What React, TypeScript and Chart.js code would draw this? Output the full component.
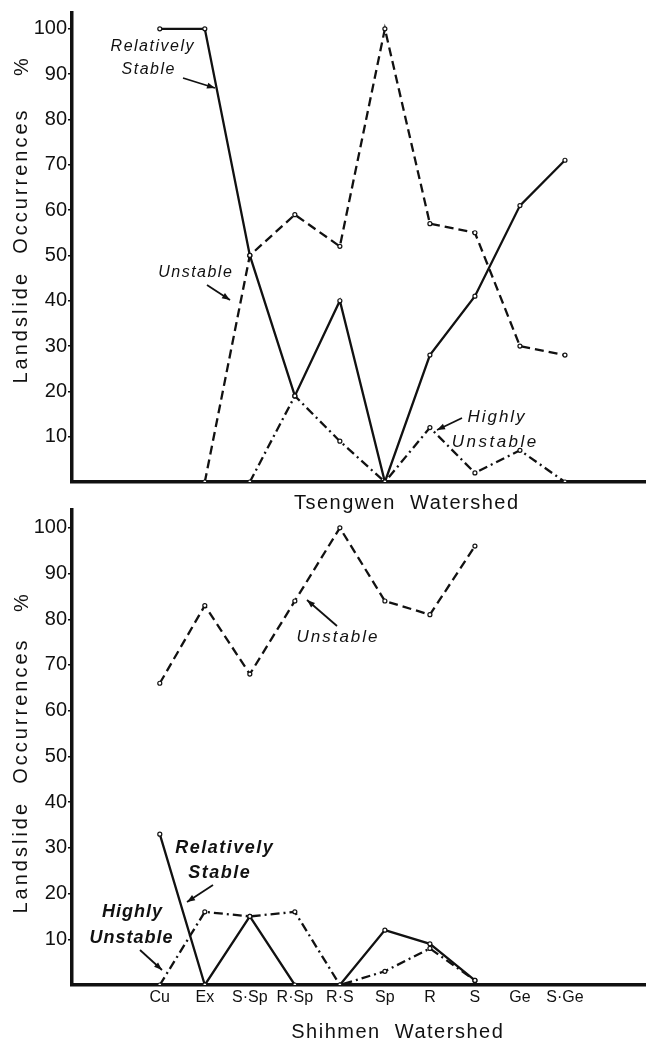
import React, { useEffect, useRef } from 'react';
import { Chart, registerables } from 'chart.js';

Chart.register(...registerables);

// ---------- data ----------
const categories = ['Cu', 'Ex', 'S·Sp', 'R·Sp', 'R·S', 'Sp', 'R', 'S', 'Ge', 'S·Ge'];
const yTickValues = [10, 20, 30, 40, 50, 60, 70, 80, 90, 100];

// Tsengwen Watershed (%)
const tsengwenRelativelyStable = [100, 100, 50, 19, 40, 0, 28, 41, 61, 71];
const tsengwenUnstable = [null, 0, 50, 59, 52, 100, 57, 55, 30, 28];
const tsengwenHighlyUnstable = [null, null, 0, 19, 9, 0, 12, 2, 7, 0];

// Shihmen Watershed (%)
const shihmenRelativelyStable = [33, 0, 15, 0, 0, 12, 9, 1, null, null];
const shihmenUnstable = [66, 83, 68, 84, 100, 84, 81, 96, null, null];
const shihmenHighlyUnstable = [0, 16, 15, 16, 0, 3, 8, 1, null, null];

// ---------- styling ----------
const INK = '#111111';
const FONT = "'Liberation Sans', Arial, sans-serif";
const TICK_FONT = "'Liberation Sans Narrow', 'Liberation Sans', Arial, sans-serif";

type TextItem = {
  kind: 'text';
  text: string;
  x: number;
  y: number;
  size: number;
  italic?: boolean;
  bold?: boolean;
  spacing?: number;
  rotate?: boolean;
};
type ArrowItem = { kind: 'arrow'; x1: number; y1: number; x2: number; y2: number };
type Item = TextItem | ArrowItem;

const annotPlugin = {
  id: 'annot',
  afterDraw(chart: any) {
    const opts = chart.options.plugins.annot;
    if (!opts) return;
    const items: Item[] = opts.items || [];
    const oy: number = opts.offsetY || 0;
    const ctx = chart.ctx as CanvasRenderingContext2D;
    ctx.save();
    ctx.fillStyle = INK;
    ctx.strokeStyle = INK;
    for (const it of items) {
      if (it.kind === 'text') {
        ctx.save();
        ctx.font = `${it.italic ? 'italic ' : ''}${it.bold ? 'bold ' : ''}${it.size}px ${FONT}`;
        (ctx as any).letterSpacing = `${it.spacing || 0}px`;
        ctx.textAlign = 'center';
        ctx.textBaseline = 'middle';
        ctx.translate(it.x + (it.rotate ? 0 : (it.spacing || 0) / 2), it.y - oy + (it.rotate ? -(it.spacing || 0) / 2 : 0));
        if (it.rotate) ctx.rotate(-Math.PI / 2);
        ctx.fillText(it.text, 0, 0);
        ctx.restore();
      } else {
        const x1 = it.x1, y1 = it.y1 - oy, x2 = it.x2, y2 = it.y2 - oy;
        ctx.lineWidth = 1.8;
        ctx.beginPath();
        ctx.moveTo(x1, y1);
        ctx.lineTo(x2, y2);
        ctx.stroke();
        const a = Math.atan2(y2 - y1, x2 - x1);
        const L = 8, W = 3;
        ctx.beginPath();
        ctx.moveTo(x2, y2);
        ctx.lineTo(x2 - L * Math.cos(a) + W * Math.sin(a), y2 - L * Math.sin(a) - W * Math.cos(a));
        ctx.lineTo(x2 - L * Math.cos(a) - W * Math.sin(a), y2 - L * Math.sin(a) + W * Math.cos(a));
        ctx.closePath();
        ctx.fill();
      }
    }
    ctx.restore();
  },
};

function toPoints(values: (number | null)[]) {
  return values.map((v, i) => ({ x: i, y: v }));
}

function dataset(label: string, values: (number | null)[], dash: number[]) {
  return {
    label,
    data: toPoints(values),
    borderColor: INK,
    borderWidth: 2.3,
    borderDash: dash,
    tension: 0,
    pointRadius: 2,
    pointBorderWidth: 1.2,
    pointBackgroundColor: '#ffffff',
    pointBorderColor: INK,
    fill: false,
    spanGaps: false,
  };
}

type PanelProps = {
  top: number;
  height: number;
  padTop: number;
  xHeight: number;
  yMax: number;
  showX: boolean;
  rs: (number | null)[];
  un: (number | null)[];
  hu: (number | null)[];
  items: Item[];
};

function Panel(p: PanelProps) {
  const ref = useRef<HTMLCanvasElement | null>(null);
  useEffect(() => {
    if (!ref.current) return;
    const chart = new Chart(ref.current, {
      type: 'line',
      data: {
        datasets: [
          dataset('Relatively Stable', p.rs, []),
          dataset('Unstable', p.un, [9, 5]),
          dataset('Highly Unstable', p.hu, [9, 4, 2, 4]),
        ] as any,
      },
      options: {
        animation: false,
        responsive: false,
        maintainAspectRatio: false,
        layout: { autoPadding: false, padding: { top: p.padTop, left: 0, right: 0, bottom: 0 } },
        plugins: {
          legend: { display: false },
          tooltip: { enabled: false },
          title: { display: false },
          annot: { items: p.items, offsetY: p.top },
        } as any,
        scales: {
          x: {
            type: 'linear',
            min: -1.95,
            max: 10.8,
            grid: { display: false, drawTicks: false },
            border: { display: true, width: 3.5, color: INK },
            ticks: {
              display: p.showX,
              color: INK,
              font: { family: FONT, size: 16 },
              padding: 3,
              autoSkip: false,
              maxRotation: 0,
              callback: (v: any) => (categories[v as number] ?? ''),
            },
            afterBuildTicks: (s: any) => {
              s.ticks = categories.map((_, i) => ({ value: i }));
            },
            afterFit: (s: any) => {
              s.height = p.xHeight;
            },
          },
          y: {
            type: 'linear',
            min: 0,
            max: p.yMax,
            grid: { display: true, drawOnChartArea: false, drawTicks: true, tickLength: 4, color: INK, lineWidth: 1.5 },
            border: { display: true, width: 3.5, color: INK },
            ticks: {
              color: INK,
              font: { family: TICK_FONT, size: 20 },
              padding: 1,
              callback: (v: any) => String(v),
            },
            afterBuildTicks: (s: any) => {
              s.ticks = yTickValues.map((v) => ({ value: v }));
            },
            afterFit: (s: any) => {
              s.width = 72;
            },
          },
        } as any,
      },
      plugins: [annotPlugin],
    });
    return () => chart.destroy();
  }, []);
  return (
    <canvas
      ref={ref}
      width={646}
      height={p.height}
      style={{ position: 'absolute', left: 0, top: p.top, width: 646, height: p.height }}
    />
  );
}

const topItems: Item[] = [
  { kind: 'text', text: 'Landslide  Occurrences', x: 21, y: 247, size: 20, spacing: 3, rotate: true },
  { kind: 'text', text: '%', x: 22, y: 67, size: 20, rotate: true },
  { kind: 'text', text: 'Tsengwen  Watershed', x: 406, y: 503, size: 20, spacing: 1.5 },
  { kind: 'text', text: 'Relatively', x: 152, y: 47, size: 16, italic: true, spacing: 1.5 },
  { kind: 'text', text: 'Stable', x: 148, y: 70, size: 16, italic: true, spacing: 1.5 },
  { kind: 'arrow', x1: 183, y1: 78, x2: 215, y2: 88 },
  { kind: 'text', text: 'Unstable', x: 195, y: 273, size: 16, italic: true, spacing: 1.5 },
  { kind: 'arrow', x1: 207, y1: 285, x2: 230, y2: 300 },
  { kind: 'text', text: 'Highly', x: 496, y: 417, size: 17, italic: true, spacing: 2 },
  { kind: 'text', text: 'Unstable', x: 494, y: 442, size: 17, italic: true, spacing: 2.5 },
  { kind: 'arrow', x1: 462, y1: 418, x2: 437, y2: 430 },
];

const bottomItems: Item[] = [
  { kind: 'text', text: 'Landslide  Occurrences', x: 21, y: 777, size: 20, spacing: 3, rotate: true },
  { kind: 'text', text: '%', x: 22, y: 603, size: 20, rotate: true },
  { kind: 'text', text: 'Shihmen  Watershed', x: 397, y: 1032, size: 20, spacing: 1.5 },
  { kind: 'text', text: 'Unstable', x: 337, y: 637, size: 17, italic: true, spacing: 2 },
  { kind: 'arrow', x1: 337, y1: 626, x2: 307, y2: 600 },
  { kind: 'text', text: 'Relatively', x: 224, y: 848, size: 18, italic: true, bold: true, spacing: 1.5 },
  { kind: 'text', text: 'Stable', x: 219, y: 873, size: 18, italic: true, bold: true, spacing: 1.5 },
  { kind: 'arrow', x1: 213, y1: 885, x2: 187, y2: 902 },
  { kind: 'text', text: 'Highly', x: 132, y: 912, size: 18, italic: true, bold: true, spacing: 1 },
  { kind: 'text', text: 'Unstable', x: 131, y: 938, size: 18, italic: true, bold: true, spacing: 1 },
  { kind: 'arrow', x1: 140, y1: 950, x2: 162, y2: 970 },
];

export default function App() {
  return (
    <div style={{ position: 'absolute', left: 0, top: 0, width: 646, height: 1044, background: '#ffffff', overflow: 'hidden' }}>
      <Panel
        top={0}
        height={522}
        padTop={8}
        xHeight={40}
        yMax={103.5}
        showX={false}
        rs={tsengwenRelativelyStable}
        un={tsengwenUnstable}
        hu={tsengwenHighlyUnstable}
        items={topItems}
      />
      <Panel
        top={496}
        height={548}
        padTop={14}
        xHeight={59}
        yMax={103.9}
        showX={true}
        rs={shihmenRelativelyStable}
        un={shihmenUnstable}
        hu={shihmenHighlyUnstable}
        items={bottomItems}
      />
    </div>
  );
}
